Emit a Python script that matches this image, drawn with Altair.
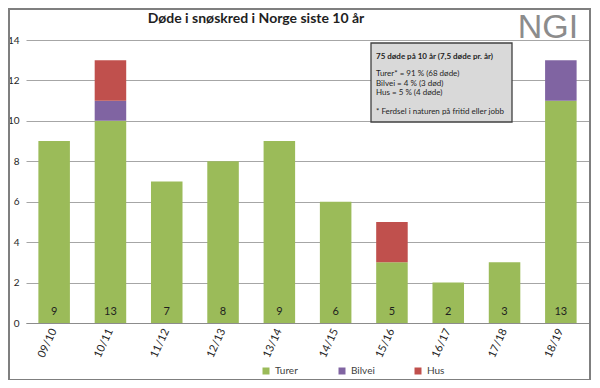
import altair as alt
import pandas as pd

seasons = ["09/10", "10/11", "11/12", "12/13", "13/14", "14/15", "15/16", "16/17", "17/18", "18/19"]
turer = [9, 10, 7, 8, 9, 6, 3, 2, 3, 11]
bilvei = [0, 1, 0, 0, 0, 0, 0, 0, 0, 2]
hus = [0, 2, 0, 0, 0, 0, 2, 0, 0, 0]
types = ["Turer", "Bilvei", "Hus"]
colors = ["#9BBB59", "#8064A2", "#C0504D"]

title_text = "Døde i snøskred i Norge siste 10 år"
box_head = "75 døde på 10 år (7,5 døde pr. år)"
box_lines = ["Turer* = 91 % (68 døde)", "Bilvei = 4 % (3 død)", "Hus = 5 % (4 døde)"]
box_note = "* Ferdsel i naturen på fritid eller jobb"

rows = []
for i, s in enumerate(seasons):
    for k, (t, vals) in enumerate(zip(types, [turer, bilvei, hus])):
        if vals[i] > 0:
            rows.append({"Sesong": s, "Type": t, "Antall": vals[i], "ord": k})
df = pd.DataFrame(rows)
tot = pd.DataFrame({"Sesong": seasons,
                    "Total": [a + b + c for a, b, c in zip(turer, bilvei, hus)]})
one = pd.DataFrame({"k": [0]})

FONT = "Lato"

xenc = alt.X("Sesong:N", sort=seasons, title=None,
             scale=alt.Scale(paddingInner=0.44, paddingOuter=0.22),
             axis=alt.Axis(labelAngle=-65, labelAlign="right", labelBaseline="middle",
                           labelPadding=6, labelFontSize=11, labelColor="#262626",
                           ticks=False, domainColor="#8C8C8C", domainWidth=1.2,
                           labelFont=FONT))

bars = alt.Chart(df).mark_bar().encode(
    x=xenc,
    y=alt.Y("sum(Antall):Q", title=None,
            scale=alt.Scale(domain=[0, 14], nice=False),
            axis=alt.Axis(values=list(range(0, 15, 2)), domain=False, ticks=False,
                          labelPadding=7, labelFontSize=10, labelColor="#262626",
                          gridColor="#A6A6A6", gridWidth=1, labelFont=FONT)),
    color=alt.Color("Type:N", sort=types,
                    scale=alt.Scale(domain=types, range=colors),
                    legend=alt.Legend(title=None, orient="none", direction="horizontal",
                                      legendX=235, legendY=326, symbolType="square",
                                      symbolSize=49, symbolStrokeWidth=0,
                                      labelFontSize=10, labelColor="#404040",
                                      labelFont=FONT, gridAlign="all", columnPadding=38)),
    order=alt.Order("ord:Q"),
)

totals = alt.Chart(tot).mark_text(fontSize=11, color="#1F1F1F", font=FONT, dy=-11,
                                  baseline="middle").encode(
    x=alt.X("Sesong:N", sort=seasons),
    y=alt.value(283),
    text="Total:Q",
)

box = alt.Chart(one).mark_rect(fill="#D9D9D9", stroke="#404040", strokeWidth=1.3).encode(
    x=alt.value(345), x2=alt.value(486), y=alt.value(3), y2=alt.value(82))

head = alt.Chart(one).mark_text(text=box_head, fontSize=8, fontWeight="bold", font=FONT,
                                align="left", baseline="middle", color="#1F1F1F").encode(
    x=alt.value(350), y=alt.value(17))

body = alt.Chart(one).mark_text(text=box_lines, fontSize=8, font=FONT, lineHeight=9.5,
                                align="left", baseline="top", color="#1F1F1F").encode(
    x=alt.value(350), y=alt.value(30))

note = alt.Chart(one).mark_text(text=box_note, fontSize=8, font=FONT,
                                align="left", baseline="middle", color="#1F1F1F").encode(
    x=alt.value(350), y=alt.value(72))

title = alt.Chart(one).mark_text(text=title_text, fontSize=14, fontWeight="bold", font=FONT,
                                 align="center", baseline="middle", color="#1F1F1F").encode(
    x=alt.value(230), y=alt.value(-21))

logo = alt.Chart(one).mark_text(text="NGI", fontSize=34, font="Liberation Sans",
                                color="#8C8C8C", align="center",
                                baseline="alphabetic").encode(
    x=alt.value(522), y=alt.value(-2))

border = alt.Chart(one).mark_rect(fill=None, stroke="#7F7F7F", strokeWidth=2).encode(
    x=alt.value(-17), x2=alt.value(564), y=alt.value(-31), y2=alt.value(340))

chart = alt.layer(bars, totals, box, head, body, note, title, logo, border).properties(
    width=563, height=283,
    padding={"left": 18, "top": 32, "right": 2, "bottom": 57},
    autosize=alt.AutoSizeParams(type="none"),
).configure_view(stroke=None)

chart.save("out.html", embed_options={"renderer": "svg", "actions": False})
